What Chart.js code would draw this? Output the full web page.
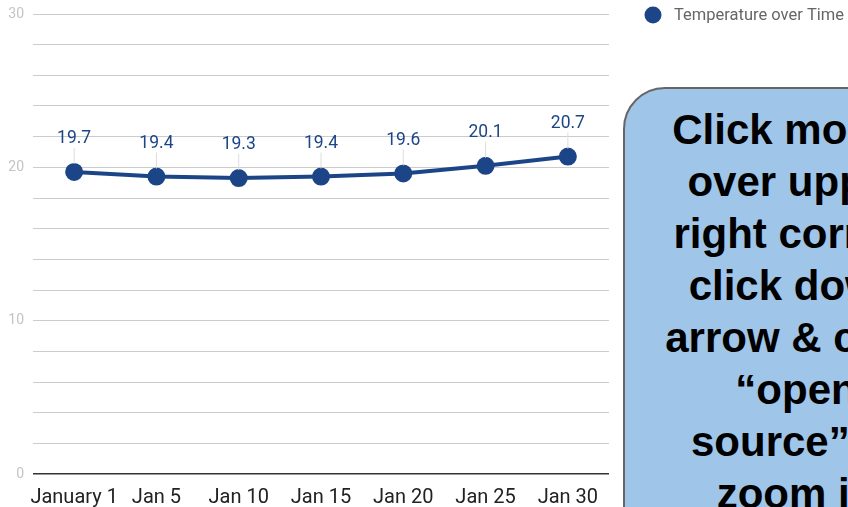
<!DOCTYPE html>
<html>
<head>
<meta charset="utf-8">
<script src="https://cdn.jsdelivr.net/npm/chart.js@4.4.1/dist/chart.umd.min.js"></script>
<style>
  html, body { margin: 0; padding: 0; background: #fff; overflow: hidden; }
  #wrap { position: relative; width: 848px; height: 507px; }
  #note {
    position: absolute; left: 623px; top: 87px; width: 346px; height: 480px;
    box-sizing: border-box; background: #9fc5e8; border: 2px solid #666;
    border-radius: 42px; padding-top: 15px;
    font-family: "Liberation Sans", Arial, sans-serif; font-weight: bold;
    font-size: 42px; line-height: 52px; text-align: center; color: #000;
  }
</style>
</head>
<body>
<div id="wrap">
  <canvas id="chart" width="848" height="507"></canvas>
  <div id="note">Click mouse<br>over upper<br>right corner,<br>click down<br>arrow &amp; click<br>“open<br>source” to<br>zoom in</div>
</div>
<script>
const categories = ['January 1', 'Jan 5', 'Jan 10', 'Jan 15', 'Jan 20', 'Jan 25', 'Jan 30'];
const temperature = [19.7, 19.4, 19.3, 19.4, 19.6, 20.1, 20.7];
const seriesName = 'Temperature over Time';
const yTicks = [0, 10, 20, 30];

const lineColor = '#1c4587';

// value labels with thin leader lines above each point
const valueLabels = {
  id: 'valueLabels',
  afterDatasetsDraw(chart) {
    const ctx = chart.ctx;
    const meta = chart.getDatasetMeta(0);
    ctx.save();
    meta.data.forEach((pt, i) => {
      ctx.strokeStyle = '#dddddd';
      ctx.lineWidth = 1;
      ctx.beginPath();
      ctx.moveTo(pt.x, pt.y - 24);
      ctx.lineTo(pt.x, pt.y - 8);
      ctx.stroke();
      ctx.fillStyle = lineColor;
      ctx.font = '17.5px Roboto';
      ctx.textAlign = 'center';
      ctx.textBaseline = 'middle';
      ctx.fillText(temperature[i].toFixed(1), pt.x, pt.y - 33);
    });
    ctx.restore();
  }
};

const sideLegend = {
  id: 'sideLegend',
  afterDraw(chart) {
    const ctx = chart.ctx;
    ctx.save();
    ctx.fillStyle = lineColor;
    ctx.beginPath();
    ctx.arc(653, 15, 8.5, 0, Math.PI * 2);
    ctx.fill();
    ctx.fillStyle = '#666';
    ctx.font = '16.5px Roboto';
    ctx.textBaseline = 'middle';
    ctx.fillText(chart.data.datasets[0].label, 674, 16);
    ctx.restore();
  }
};

new Chart(document.getElementById('chart'), {
  type: 'line',
  data: {
    labels: categories,
    datasets: [{
      label: seriesName,
      data: temperature,
      borderColor: lineColor,
      backgroundColor: lineColor,
      borderWidth: 4,
      pointRadius: 7,
      pointHoverRadius: 7,
      tension: 0
    }]
  },
  options: {
    responsive: false,
    animation: false,
    layout: { padding: { top: 14, right: 239, left: 0, bottom: 0 } },
    plugins: {
      legend: { display: false },
      tooltip: { enabled: false }
    },
    scales: {
      x: {
        offset: true,
        grid: { display: false },
        border: { display: false },
        ticks: { color: '#222', font: { family: 'Roboto', size: 20 }, padding: 4, maxRotation: 0, autoSkip: false },
        afterFit: (s) => { s.height = 33; }
      },
      y: {
        min: 0,
        max: 30,
        border: { display: false },
        grid: {
          drawTicks: false,
          color: (c) => c.tick && c.tick.value === 0 ? '#333' : '#cccccc',
          lineWidth: (c) => c.tick && c.tick.value === 0 ? 1.5 : 1
        },
        ticks: {
          stepSize: 2,
          color: '#c4c4c4',
          font: { family: 'Roboto', size: 14 },
          padding: 9,
          autoSkip: false,
          callback: (v) => yTicks.includes(v) ? v : ''
        },
        afterFit: (s) => { s.width = 33; s.paddingTop = 0; s.paddingBottom = 0; }
      }
    }
  },
  plugins: [valueLabels, sideLegend]
});
</script>
</body>
</html>
